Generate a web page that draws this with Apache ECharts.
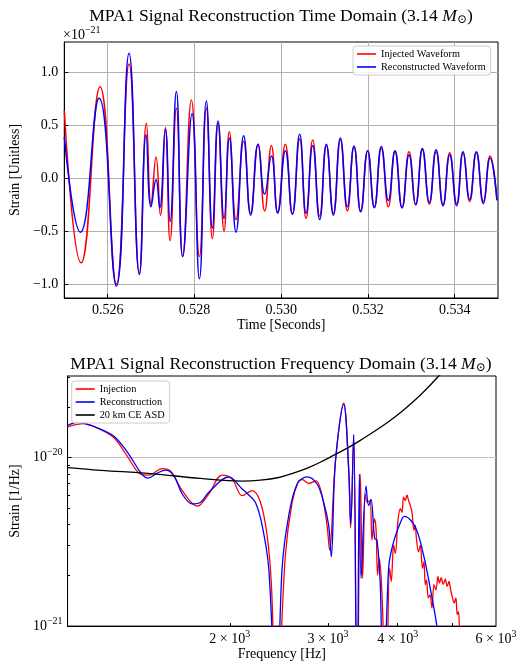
<!DOCTYPE html>
<html><head><meta charset="utf-8">
<script src="https://cdn.jsdelivr.net/npm/echarts@6/dist/echarts.min.js"></script>
<style>html,body{margin:0;padding:0;background:#fff}#c{width:520px;height:662px}</style>
</head><body><div id="c"></div>
<script>
const FONT = "'Liberation Serif','DejaVu Serif',serif";

// ---------- Time domain (strain in units of 1e-21) ----------
const injTime = [0.525000,0.525387,0.525825,0.526201,0.526493,0.526731,0.526893,0.527001,0.527116,0.527216,0.527330,0.527439,0.527584,0.527730,0.527930,0.528115,0.528276,0.528414,0.528545,0.528684,0.528806,0.528960,0.529136,0.529297,0.529468,0.529620,0.529775,0.529920,0.530097,0.530259,0.530427,0.530575,0.530727,0.530888,0.531043,0.531204,0.531366,0.531527,0.531680,0.531834,0.531995,0.532149,0.532310,0.532472,0.532626,0.532788,0.532949,0.533102,0.533256,0.533417,0.533572,0.533733,0.533886,0.534047,0.534194,0.534347,0.534501,0.534663,0.534817,0.534975];
const injStrain = [0.64,-0.80,0.865,-1.00,1.08,-0.90,0.52,-0.24,0.20,-0.35,0.48,-0.59,0.66,-0.74,0.74,-0.74,0.66,-0.57,0.52,-0.50,0.44,-0.39,0.35,-0.33,0.32,-0.31,0.31,-0.32,0.32,-0.34,0.37,-0.38,0.36,-0.36,0.31,-0.33,0.36,-0.31,0.30,-0.31,0.26,-0.27,0.28,-0.27,0.25,-0.28,0.25,-0.25,0.27,-0.245,0.25,-0.25,0.24,-0.24,0.24,-0.22,0.24,-0.22,0.21,-0.20];
const recTime = [0.525000,0.525371,0.525802,0.526201,0.526493,0.526731,0.526886,0.527000,0.527116,0.527200,0.527330,0.527439,0.527584,0.527730,0.527946,0.528115,0.528276,0.528414,0.528545,0.528684,0.528806,0.528960,0.529136,0.529297,0.529468,0.529620,0.529775,0.529920,0.530097,0.530259,0.530427,0.530575,0.530727,0.530888,0.531043,0.531204,0.531366,0.531527,0.531680,0.531834,0.531995,0.532149,0.532310,0.532472,0.532626,0.532788,0.532949,0.533102,0.533256,0.533417,0.533572,0.533733,0.533886,0.534047,0.534194,0.534347,0.534501,0.534663,0.534817,0.534975];
const recStrain = [0.39,-0.51,0.755,-1.02,1.18,-0.91,0.41,-0.27,-0.015,-0.28,0.46,-0.41,0.82,-0.74,0.61,-0.95,0.73,-0.47,0.54,-0.38,0.38,-0.51,0.40,-0.35,0.32,-0.15,0.21,-0.33,0.26,-0.34,0.415,-0.33,0.31,-0.39,0.32,-0.35,0.38,-0.27,0.305,-0.32,0.26,-0.28,0.30,-0.21,0.26,-0.28,0.22,-0.25,0.28,-0.23,0.27,-0.26,0.22,-0.26,0.25,-0.20,0.25,-0.24,0.19,-0.21];
const timeTicks = [0.526,0.528,0.530,0.532,0.534];
const strainTicks = [-1.0,-0.5,0.0,0.5,1.0];

// ---------- Frequency domain ----------
const injFreq = [1024,1095,1157,1240,1310,1384,1432,1514,1566,1644,1749,1834,1938,2020,2105,2193,2270,2333,2375,2425,2516,2587,2658,2699,2770,2856,2927,2988,3020,3092,3200,3267,3294,3335,3382,3428,3460,3499,3524,3567,3596,3631,3657,3681,3706,3749,3811,3868,3895,3932,3960,4004,4042,4071,4097,4126,4155,4183,4212,4242,4277,4300,4318,4359,4390,4431,4457,4481,4505,4537,4569,4607,4645,4683,4722,4753,4786,4826,4866,4906,4941,4982,5015,5050,5085,5113,5140,5176,5300];
const injAmp = [1.52e-20,1.59e-20,1.50e-20,1.31e-20,1.02e-20,7.98e-21,7.87e-21,8.61e-21,8.34e-21,6.37e-21,5.15e-21,6.08e-21,7.87e-21,7.45e-21,5.94e-21,6.37e-21,5.43e-21,3.46e-21,1.76e-21,3e-22,2.64e-21,5.43e-21,7.28e-21,7.40e-21,7.03e-21,7.28e-21,5.94e-21,3.96e-21,2.82e-21,9.35e-21,2.11e-20,8.53e-21,3.82e-21,1.37e-20,2e-22,7.98e-21,1.92e-21,6.08e-21,5.43e-21,5.56e-21,3.24e-21,4.34e-21,3.78e-21,2.01e-21,2.52e-21,1.53e-21,3e-22,2.20e-21,1.84e-21,3.02e-21,2.70e-21,4.24e-21,4.97e-21,4.74e-21,5.82e-21,5.56e-21,6.0e-21,5.56e-21,5.19e-21,4.74e-21,3.70e-21,3.96e-21,3.38e-21,2.76e-21,3.02e-21,2.20e-21,2.41e-21,1.76e-21,1.88e-21,1.47e-21,1.53e-21,1.28e-21,1.76e-21,1.64e-21,1.97e-21,1.80e-21,1.94e-21,1.77e-21,1.90e-21,1.72e-21,1.84e-21,1.61e-21,1.47e-21,1.37e-21,1.47e-21,1.17e-21,1.22e-21,8e-22,5e-22];
const recFreq = [1024,1066,1141,1240,1319,1384,1426,1483,1534,1588,1644,1713,1773,1834,1992,2105,2163,2223,2286,2349,2425,2482,2551,2641,2752,2867,2946,3008,3041,3092,3200,3267,3294,3335,3382,3414,3438,3509,3547,3582,3636,3672,3722,3770,3852,3932,4071,4114,4300,4450,4574,4702,4800];
const recAmp = [1.55e-20,1.62e-20,1.53e-20,1.34e-20,1.045e-20,8.17e-21,7.55e-21,8.09e-21,8.42e-21,7.80e-21,6.08e-21,5.31e-21,5.43e-21,6.22e-21,7.69e-21,6.52e-21,6.0e-21,5.43e-21,3.96e-21,2.20e-21,3e-22,2.20e-21,4.53e-21,6.97e-21,7.69e-21,6.97e-21,5.43e-21,3.96e-21,2.58e-21,9.35e-21,2.07e-20,8.53e-21,4.0e-21,1.37e-20,2e-22,7.98e-21,1.92e-21,6.8e-21,5.19e-21,5.64e-21,3.31e-21,3.24e-21,1.76e-21,3e-22,2.20e-21,3.16e-21,4.34e-21,4.48e-21,3.87e-21,2.64e-21,1.68e-21,1.0e-21,6e-22];
const asdFreq = [1024,1174,1443,1773,2105,2270,2448,2600,2769,2931,3092,3290,3428,3800,4073,4388,4732,5176];
const asdAmp = [8.73e-21,8.41e-21,8.04e-21,7.52e-21,7.26e-21,7.35e-21,7.62e-21,8.09e-21,8.73e-21,9.52e-21,1.045e-20,1.165e-20,1.265e-20,1.582e-20,1.884e-20,2.344e-20,3.04e-20,4.34e-20];
const freqLabelTicks = [2000,3000,4000,6000];
const freqTicks = [2000,3000,4000,5000];
const ampTicks = [1e-21,1e-20];
const ampMinorTicks = [2e-21,3e-21,4e-21,5e-21,6e-21,7e-21,8e-21,9e-21,2e-20,3e-20];

function zip(a,b){return a.map((v,i)=>[v,b[i]]);}

const chart = echarts.init(document.getElementById('c'));
const axisFont = {fontFamily:FONT, fontSize:14, color:'#000'};
const nameStyle = {fontFamily:FONT, fontSize:14, color:'#000'};
const gridLine = {show:true, lineStyle:{color:'#b0b0b0', width:1}};
const TS = 17.6;
const titleRich = {n:{fontSize:TS,fontFamily:FONT}, i:{fontSize:TS,fontFamily:FONT,fontStyle:'italic'}, s:{fontSize:12,fontFamily:FONT,padding:[8,0,0,0]}};

const option = {
  animation:false,
  backgroundColor:'#fff',
  textStyle:{fontFamily:FONT},
  graphic:[
    {type:'text', x:281, y:16, style:{
      text:'{n|MPA1 Signal Reconstruction Time Domain (3.14 }{i|M}{s|⊙}{n|)}',
      align:'center', verticalAlign:'middle', fill:'#000', fontFamily:FONT, fontSize:TS, rich:titleRich
    }},
    {type:'text', x:281, y:364, style:{
      text:'{n|MPA1 Signal Reconstruction Frequency Domain (3.14 }{i|M}{s|⊙}{n|)}',
      align:'center', verticalAlign:'middle', fill:'#000', fontFamily:FONT, fontSize:TS, rich:titleRich
    }},
    {type:'text', x:63, y:35, style:{
      text:'{a|×10}{b|−21}', align:'left', verticalAlign:'middle', fill:'#000', fontFamily:FONT, fontSize:14,
      rich:{a:{fontSize:14,fontFamily:FONT}, b:{fontSize:10,fontFamily:FONT,padding:[0,0,10,0]}}
    }}
  ],
  legend:[
    {data:['Injected Waveform','Reconstructed Waveform'], orient:'vertical', left:353, top:46,
     backgroundColor:'rgba(255,255,255,0.85)', borderColor:'#cccccc', borderWidth:1, borderRadius:3,
     padding:[2,5,2,4], itemWidth:19, itemHeight:1.6, itemGap:1, icon:'rect',
     textStyle:{fontFamily:FONT, fontSize:10.3, color:'#000', lineHeight:12}},
    {data:['Injection','Reconstruction','20 km CE ASD'], orient:'vertical', left:71.7, top:381,
     backgroundColor:'rgba(255,255,255,0.85)', borderColor:'#cccccc', borderWidth:1, borderRadius:3,
     padding:[2,5,2,4], itemWidth:19, itemHeight:1.6, itemGap:1, icon:'rect',
     textStyle:{fontFamily:FONT, fontSize:10.3, color:'#000', lineHeight:12}}
  ],
  grid:[
    {left:64, right:22, top:42, bottom:364, show:true, borderColor:'#000', borderWidth:1, backgroundColor:'transparent'},
    {left:67, right:24, top:376, bottom:33.5, show:true, borderColor:'#000', borderWidth:1, backgroundColor:'transparent'}
  ],
  xAxis:[
    {type:'value', gridIndex:0, min:0.525, max:0.535,
     axisLine:{show:true, onZero:false, lineStyle:{color:'#000'}},
     axisTick:{show:true, inside:true, length:4, customValues:timeTicks, lineStyle:{color:'#000'}},
     axisLabel:{customValues:timeTicks, formatter:v=>v.toFixed(3), margin:5, ...axisFont},
     splitLine:gridLine,
     name:'Time [Seconds]', nameLocation:'middle', nameGap:20, nameTextStyle:nameStyle},
    {type:'log', logBase:10, gridIndex:1, min:1024, max:6000,
     axisLine:{show:true, onZero:false, lineStyle:{color:'#000'}},
     axisTick:{show:true, inside:true, length:3, customValues:freqTicks, lineStyle:{color:'#000'}},
     axisLabel:{customValues:freqLabelTicks, margin:3, ...axisFont,
       formatter:v=>{const e=Math.floor(Math.log10(v)+1e-9); const m=Math.round(v/Math.pow(10,e)); return '{a|'+m+' × 10}{b|'+e+'}';},
       rich:{a:{fontSize:14,fontFamily:FONT,color:'#000'}, b:{fontSize:10,fontFamily:FONT,color:'#000',padding:[0,0,10,0]}}},
     splitLine:{show:false},
     name:'Frequency [Hz]', nameLocation:'middle', nameGap:19, nameTextStyle:nameStyle}
  ],
  yAxis:[
    {type:'value', gridIndex:0, min:-1.132, max:1.287,
     axisLine:{show:true, onZero:false, lineStyle:{color:'#000'}},
     axisTick:{show:true, inside:true, length:4, customValues:strainTicks, lineStyle:{color:'#000'}},
     axisLabel:{customValues:strainTicks, formatter:v=>(v<0?'\u2212':'')+Math.abs(v).toFixed(1), margin:6, ...axisFont},
     splitLine:gridLine,
     name:'Strain [Unitless]', nameLocation:'middle', nameGap:37, nameTextStyle:nameStyle},
    {type:'log', logBase:10, gridIndex:1, position:'left', min:1e-21, max:3.05e-20,
     axisLine:{show:true, onZero:false, lineStyle:{color:'#000'}},
     axisTick:{show:true, inside:true, length:4, customValues:ampTicks, lineStyle:{color:'#000'}},
     axisLabel:{customValues:ampTicks, margin:5, ...axisFont,
       formatter:v=>'{a|10}{b|\u2212'+Math.abs(Math.round(Math.log10(v)))+'}',
       rich:{a:{fontSize:14,fontFamily:FONT,color:'#000'}, b:{fontSize:10,fontFamily:FONT,color:'#000',padding:[0,0,10,0]}}},
     splitLine:{show:true, lineStyle:{color:'#c0c0c0', width:1}},
     name:'Strain [1/Hz]', nameLocation:'middle', nameGap:40, nameTextStyle:nameStyle},
    {type:'log', logBase:10, gridIndex:1, position:'left', offset:0, min:1e-21, max:3.05e-20,
     axisLine:{show:false},
     axisTick:{show:true, inside:true, length:2.5, customValues:ampMinorTicks, lineStyle:{color:'#000'}},
     axisLabel:{show:false}, splitLine:{show:false}}
  ],
  series:[
    {name:'Injected Waveform', type:'line', xAxisIndex:0, yAxisIndex:0, data:zip(injTime,injStrain),
     smooth:true, showSymbol:false, lineStyle:{color:'#ff0000', width:1.5}, itemStyle:{color:'#ff0000'}},
    {name:'Reconstructed Waveform', type:'line', xAxisIndex:0, yAxisIndex:0, data:zip(recTime,recStrain),
     smooth:true, showSymbol:false, lineStyle:{color:'#0000ff', width:1.5}, itemStyle:{color:'#0000ff'}},
    {name:'Injection', type:'line', xAxisIndex:1, yAxisIndex:1, data:zip(injFreq,injAmp),
     smooth:0.35, showSymbol:false, lineStyle:{color:'#ff0000', width:1.3}, itemStyle:{color:'#ff0000'}},
    {name:'Reconstruction', type:'line', xAxisIndex:1, yAxisIndex:1, data:zip(recFreq,recAmp),
     smooth:0.35, showSymbol:false, lineStyle:{color:'#0000ff', width:1.3}, itemStyle:{color:'#0000ff'}},
    {name:'20 km CE ASD', type:'line', xAxisIndex:1, yAxisIndex:1, data:zip(asdFreq,asdAmp),
     smooth:0.4, showSymbol:false, lineStyle:{color:'#000000', width:1.3}, itemStyle:{color:'#000000'}}
  ]
};
chart.setOption(option);
</script></body></html>
